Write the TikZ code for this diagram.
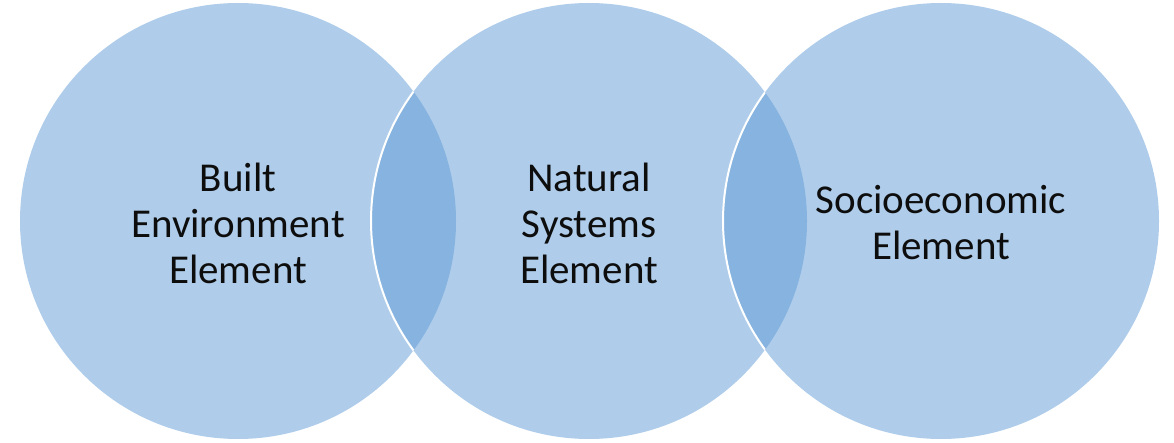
\documentclass[tikz,border=0pt]{standalone}
\usepackage{fontspec}
\setmainfont{Carlito}
\definecolor{ringblue}{HTML}{AFCDEA}
\definecolor{lensblue}{HTML}{86B3DF}
\definecolor{inkgray}{HTML}{0D0D0D}
\tikzset{
  ring/.style={circle, fill=ringblue, minimum size=436pt, inner sep=0pt},
  ringtext/.style={align=center, text=inkgray, font=\fontsize{41}{46}\selectfont},
}
\begin{document}
\begin{tikzpicture}[x=1pt, y=-1pt]
    \useasboundingbox (0,0) rectangle (1174,443);
    \node (built) [ring] at (238,221) {};
    \node (natural) [ring] at (589,221) {};
    \node (socio) [ring] at (941,221) {};
    % darker overlaps
    \begin{scope}
      \clip (built.center) circle[radius=218pt];
      \fill[lensblue] (natural.center) circle[radius=218pt];
      \draw[white, line width=2pt] (natural.center) circle[radius=218pt];
    \end{scope}
    \begin{scope}
      \clip (natural.center) circle[radius=218pt];
      \fill[lensblue] (socio.center) circle[radius=218pt];
      \draw[white, line width=2pt] (socio.center) circle[radius=218pt];
    \end{scope}
    \node [ringtext] at ([yshift=-2pt]built.center) {Built\\Environment\\Element};
    \node [ringtext] at ([yshift=-2pt]natural.center) {Natural\\Systems\\Element};
    \node [ringtext] at ([yshift=-2pt]socio.center) {Socioeconomic\\Element};
  \end{tikzpicture}
\end{document}
